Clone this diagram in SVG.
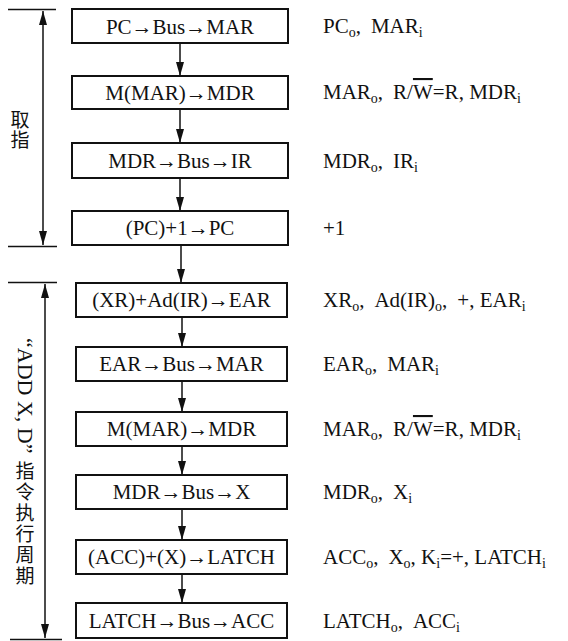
<svg xmlns="http://www.w3.org/2000/svg" width="568" height="641" viewBox="0 0 568 641">
<style>
.box{fill:#fff;stroke:#111;stroke-width:2}
.bt{font-family:"Liberation Serif","Times New Roman",serif;font-size:21px;fill:#111;text-anchor:middle}
.rt{font-family:"Liberation Serif","Times New Roman",serif;font-size:21px;fill:#111}
.sub{font-size:14px}
.vt{font-family:"Noto Sans CJK SC","Noto Sans",sans-serif;font-size:19px;fill:#111;writing-mode:vertical-rl;text-orientation:mixed}
.lat{font-family:"Liberation Serif","Times New Roman",serif;font-size:22px}
.ln{stroke:#111;stroke-width:1.5;fill:none}
.ar{stroke:#111;stroke-width:1.5;fill:none;marker-end:url(#ah)}
.br{stroke:#111;stroke-width:1.5;fill:none;marker-start:url(#ah);marker-end:url(#ah)}
</style>
<defs>
<marker id="ah" markerUnits="userSpaceOnUse" markerWidth="16" markerHeight="10" refX="14" refY="0" viewBox="0 -5 16 10" orient="auto-start-reverse">
<path d="M0,-4 L14,0 L0,4 z" fill="#111"/>
</marker>
</defs>
<rect width="568" height="641" fill="#fff"/>

<g id="fetch-label">
<line class="ln" x1="8" y1="9.5" x2="56" y2="9.5"/>
<line class="ln" x1="8" y1="246.5" x2="57" y2="246.5"/>
<line class="br" x1="43" y1="11" x2="43" y2="245"/>
<text class="vt" x="20" y="110" letter-spacing="1">取指</text>
</g>

<g id="exec-label">
<line class="ln" x1="8" y1="282.5" x2="57" y2="282.5"/>
<line class="ln" x1="10" y1="639.5" x2="62" y2="639.5"/>
<line class="br" x1="45" y1="284" x2="45" y2="638"/>
<text class="vt" x="25" y="338" letter-spacing="2"><tspan class="lat" letter-spacing="0">“ADD X, D”</tspan><tspan dy="8">指令执行周期</tspan></text>
</g>

<g id="connectors">
<line class="ar" x1="180" y1="43" x2="180" y2="76"/>
<line class="ar" x1="180" y1="109" x2="180" y2="143"/>
<line class="ar" x1="180" y1="178" x2="180" y2="211"/>
<line class="ar" x1="181" y1="245" x2="181" y2="283"/>
<line class="ar" x1="182" y1="317" x2="182" y2="347"/>
<line class="ar" x1="182" y1="381" x2="182" y2="412"/>
<line class="ar" x1="182" y1="446" x2="182" y2="475"/>
<line class="ar" x1="182" y1="509" x2="182" y2="540"/>
<line class="ar" x1="182" y1="574" x2="182" y2="603"/>
</g>

<g id="n1"><rect class="box" x="72" y="9" width="216" height="34"/><text class="bt" x="180" y="34">PC→Bus→MAR</text></g>
<g id="n2"><rect class="box" x="72" y="76" width="216" height="33"/><text class="bt" x="180" y="100">M(MAR)→MDR</text></g>
<g id="n3"><rect class="box" x="72" y="143" width="216" height="35"/><text class="bt" x="180" y="168">MDR→Bus→IR</text></g>
<g id="n4"><rect class="box" x="72" y="211" width="216" height="34"/><text class="bt" x="180" y="235">(PC)+1→PC</text></g>
<g id="n5"><rect class="box" x="76" y="283" width="211" height="34"/><text class="bt" x="181.5" y="307">(XR)+Ad(IR)→EAR</text></g>
<g id="n6"><rect class="box" x="76" y="347" width="211" height="34"/><text class="bt" x="181.5" y="371">EAR→Bus→MAR</text></g>
<g id="n7"><rect class="box" x="76" y="412" width="211" height="34"/><text class="bt" x="181.5" y="436">M(MAR)→MDR</text></g>
<g id="n8"><rect class="box" x="76" y="475" width="211" height="34"/><text class="bt" x="181.5" y="499">MDR→Bus→X</text></g>
<g id="n9"><rect class="box" x="76" y="540" width="211" height="34"/><text class="bt" x="181.5" y="564">(ACC)+(X)→LATCH</text></g>
<g id="n10"><rect class="box" x="76" y="603" width="211" height="35"/><text class="bt" x="181.5" y="628">LATCH→Bus→ACC</text></g>

<g id="signals">
<text class="rt" x="323" y="33">PC<tspan class="sub" dy="4">o</tspan><tspan dy="-4">,</tspan><tspan dx="10">MAR</tspan><tspan class="sub" dy="4">i</tspan></text>
<text class="rt" x="323" y="99">MAR<tspan class="sub" dy="4">o</tspan><tspan dy="-4">,</tspan><tspan dx="10">R/</tspan><tspan text-decoration="overline">W</tspan>=R, MDR<tspan class="sub" dy="4">i</tspan></text>
<text class="rt" x="323" y="168">MDR<tspan class="sub" dy="4">o</tspan><tspan dy="-4">,</tspan><tspan dx="10">IR</tspan><tspan class="sub" dy="4">i</tspan></text>
<text class="rt" x="323" y="235">+1</text>
<text class="rt" x="323" y="307">XR<tspan class="sub" dy="4">o</tspan><tspan dy="-4">,</tspan><tspan dx="10">Ad(IR)</tspan><tspan class="sub" dy="4">o</tspan><tspan dy="-4">,</tspan><tspan dx="10">+, EAR</tspan><tspan class="sub" dy="4">i</tspan></text>
<text class="rt" x="323" y="371">EAR<tspan class="sub" dy="4">o</tspan><tspan dy="-4">,</tspan><tspan dx="10">MAR</tspan><tspan class="sub" dy="4">i</tspan></text>
<text class="rt" x="323" y="436">MAR<tspan class="sub" dy="4">o</tspan><tspan dy="-4">,</tspan><tspan dx="10">R/</tspan><tspan text-decoration="overline">W</tspan>=R, MDR<tspan class="sub" dy="4">i</tspan></text>
<text class="rt" x="323" y="499">MDR<tspan class="sub" dy="4">o</tspan><tspan dy="-4">,</tspan><tspan dx="10">X</tspan><tspan class="sub" dy="4">i</tspan></text>
<text class="rt" x="323" y="564">ACC<tspan class="sub" dy="4">o</tspan><tspan dy="-4">,</tspan><tspan dx="10">X</tspan><tspan class="sub" dy="4">o</tspan><tspan dy="-4">, K</tspan><tspan class="sub" dy="4">i</tspan><tspan dy="-4">=+, LATCH</tspan><tspan class="sub" dy="4">i</tspan></text>
<text class="rt" x="323" y="628">LATCH<tspan class="sub" dy="4">o</tspan><tspan dy="-4">,</tspan><tspan dx="10">ACC</tspan><tspan class="sub" dy="4">i</tspan></text>
</g>
</svg>
